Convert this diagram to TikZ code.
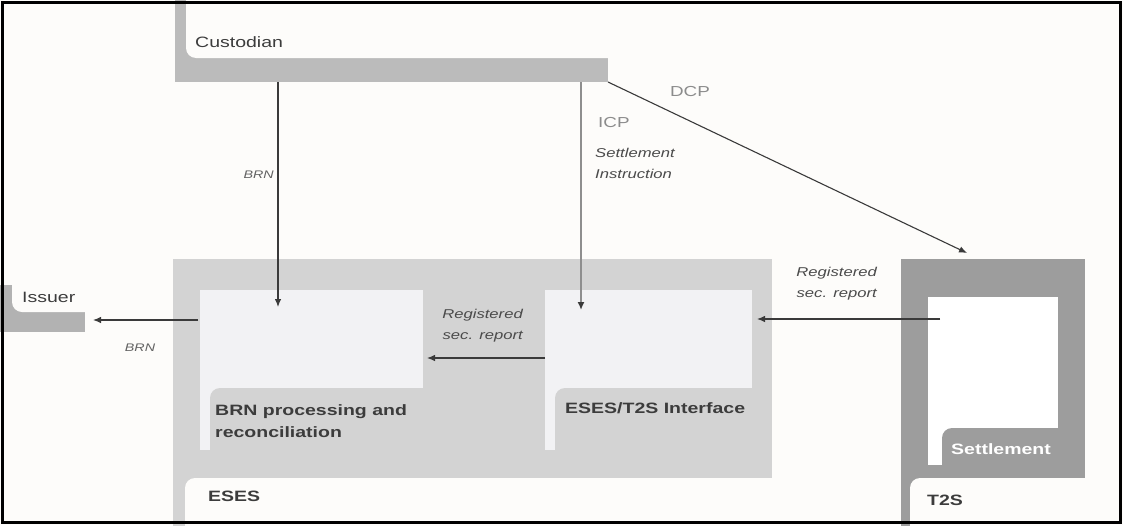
\documentclass[tikz,border=0pt]{standalone}
\usepackage{fontspec}
\setmainfont{Liberation Sans}[FakeStretch=1.3]
\usetikzlibrary{calc,positioning,fit,arrows.meta}
\definecolor{pagebg}{HTML}{FDFCFA}
\definecolor{custgray}{HTML}{BBBBBB}
\definecolor{esesgray}{HTML}{D3D3D3}
\definecolor{t2sgray}{HTML}{9D9D9D}
\definecolor{boxwhite}{HTML}{F2F2F4}
\definecolor{textdark}{HTML}{3C3C3C}
\definecolor{lblgray}{HTML}{4A4A4A}
\definecolor{protogray}{HTML}{8C8C8C}
\definecolor{linegray}{HTML}{3A3A3A}
\definecolor{icpgray}{HTML}{8E8E8E}
\tikzset{
    panel/.style={
        rectangle,
        fill=#1,
        draw=none,
        inner sep=0pt,
        outer sep=0pt,
    },
    tabcut/.style={
        fill=#1,
        rounded corners=10pt,
    },
    name text/.style={
        inner sep=0pt,
        text=textdark,
        font=\fontsize{15}{22}\selectfont,
    },
    box text/.style={
        name text,
        font=\fontsize{15}{22}\selectfont\bfseries,
    },
    msg/.style={
        inner sep=0pt,
        text=lblgray,
        font=\fontsize{12.8}{21}\selectfont\itshape,
    },
    small msg/.style={
        msg,
        text=protogray!70!black,
        font=\fontsize{11}{12}\selectfont\itshape,
    },
    proto/.style={
        inner sep=0pt,
        text=protogray,
        font=\fontsize{14.5}{16}\selectfont,
    },
    flow/.style={
        -{Latex[length=8pt,width=6.5pt]},
        draw=linegray,
        line width=1.1pt,
    },
    icp flow/.style={
        -{Latex[length=8pt,width=7pt,color=linegray]},
        draw=icpgray,
        line width=2.6pt,
    },
}
\begin{document}
\begin{tikzpicture}[x=1pt,y=-1pt]
    \useasboundingbox (0,0) rectangle (1123,525);
    \fill[pagebg] (0,0) rectangle (1123,525);
    % custodian and issuer brackets
    \node[panel=custgray,fit={(175,-20)(608,82)}](custodian){};
    \fill[tabcut=pagebg] (186,-30) rectangle (640,58);
    \node[panel=custgray!95!black,fit={(-20,285)(85,332)}](issuer){};
    \fill[tabcut=pagebg] (12,250) rectangle (120,312);
    % ESES
    \node[panel=esesgray,fit={(173,259)(772,540)}](eses){};
    \fill[tabcut=pagebg] (185,478) rectangle (800,560);
    \node[panel=boxwhite,fit={(200,290)(423,450)}](brnbox){};
    \fill[tabcut=esesgray] (210,388) rectangle (440,470);
    \node[panel=boxwhite,fit={(545,290)(752,450)}](ifbox){};
    \fill[tabcut=esesgray] (555,388) rectangle (762,470);
    % T2S
    \node[panel=t2sgray,fit={(901,259)(1085,540)}](t2s){};
    \fill[tabcut=pagebg] (910,478) rectangle (1110,560);
    \node[panel=white,fit={(928,297)(1058,465)}](settle){};
    \fill[tabcut=t2sgray] (942,428) rectangle (1070,475);

    \node[name text,anchor=west](custlbl) at (195,42) {Custodian};
    \node[name text,anchor=west](issuerlbl) at (22,297) {Issuer};
    \node[box text,anchor=west](eseslbl) at (208,496) {ESES};
    \node[box text,anchor=west](t2slbl) at (927,500) {T2S};
    \node[box text,text=white](settlelbl) at (1001,449) {Settlement};
    \node[box text,anchor=west,align=left](brnlbl) at (215,421) {BRN processing and\\reconciliation};
    \node[box text,anchor=west](iflbl) at (565,408) {ESES/T2S Interface};

    % connectors
    \coordinate (brnin) at ($(brnbox.north west)+(78,17)$);
    \coordinate (ifin) at ($(ifbox.north west)+(36,20)$);
    \coordinate (t2sin) at ($(t2s.north west)+(66,-6)$);
    \coordinate (regout) at ($(settle.north west)+(12,22)$);
    \draw[flow] (custodian.south -| brnin) -- (brnin);
    \draw[icp flow] (custodian.south -| ifin) -- (ifin);
    \draw[flow] (custodian.south east) -- (t2sin);
    \draw[flow] (regout) -- ([xshift=5pt]regout -| ifbox.east);
    \draw[flow] ([yshift=12pt]ifbox.west) -- ([yshift=12pt,xshift=4pt]brnbox.east);
    \draw[flow] ([yshift=50pt,xshift=-2pt]brnbox.west) -- ([yshift=50pt,xshift=8pt]brnbox.west -| issuer.east);

    \node[small msg,anchor=east](brnmsg) at (274,175) {BRN};
    \node[small msg](brnout) at (140,348) {BRN};
    \node[proto](dcp) at (690,92) {DCP};
    \node[proto,anchor=west](icp) at (598,123) {ICP};
    \node[msg,anchor=west,align=left](sinstr) at (595,163) {Settlement\\Instruction};
    \node[msg,anchor=east,align=right](regt2s) at (877,284) {Registered\\sec. report};
    \node[msg,anchor=east,align=right](regif) at (523,326) {Registered\\sec. report};

    \draw[line width=2.5pt] (2.5,2.5) rectangle (1120.5,522.5);
\end{tikzpicture}
\end{document}
